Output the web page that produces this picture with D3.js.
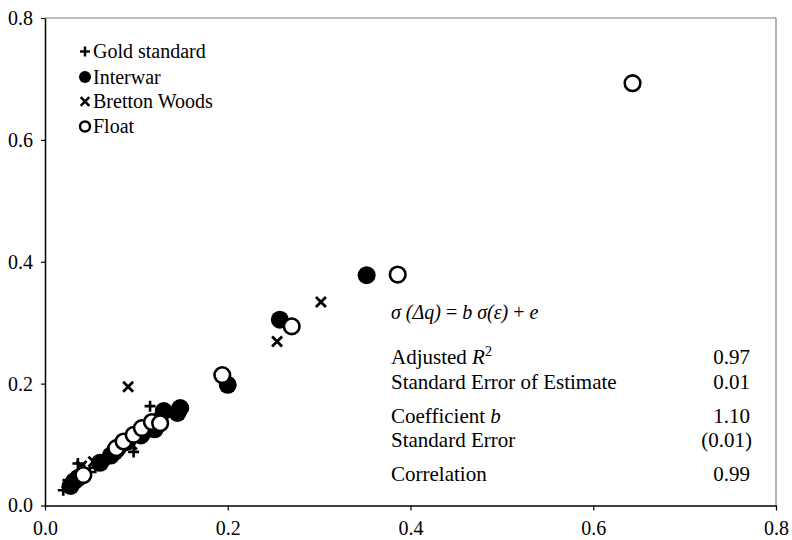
<!DOCTYPE html>
<html><head><meta charset="utf-8">
<script src="https://cdn.jsdelivr.net/npm/d3@7"></script>
<style>
html,body{margin:0;padding:0;background:#fff;}
svg text{font-family:"Liberation Serif","Times New Roman",serif;fill:#000;}
</style></head>
<body><svg id="c" width="792" height="540"></svg>
<script>
const seriesNames = ["Gold standard","Interwar","Bretton Woods","Float"];
const goldStandard = [[0.020,0.025],[0.024,0.030],[0.030,0.042],[0.036,0.069],[0.043,0.058],[0.049,0.055],[0.055,0.062],[0.060,0.067],[0.064,0.070],[0.068,0.073],[0.078,0.085],[0.085,0.092],[0.097,0.088],[0.100,0.112],[0.112,0.125],[0.115,0.163],[0.125,0.150]];
const interwar = [[0.028,0.032],[0.032,0.040],[0.036,0.045],[0.060,0.070],[0.072,0.082],[0.076,0.088],[0.080,0.095],[0.090,0.105],[0.105,0.115],[0.120,0.125],[0.125,0.135],[0.130,0.155],[0.145,0.152],[0.148,0.160],[0.200,0.198],[0.257,0.305],[0.352,0.378]];
const brettonWoods = [[0.025,0.035],[0.040,0.065],[0.053,0.072],[0.062,0.068],[0.065,0.075],[0.080,0.090],[0.091,0.195],[0.095,0.100],[0.110,0.120],[0.254,0.269],[0.302,0.334]];
const floatPeriod = [[0.042,0.050],[0.078,0.094],[0.086,0.105],[0.097,0.116],[0.106,0.127],[0.117,0.137],[0.126,0.135],[0.194,0.214],[0.270,0.294],[0.386,0.379],[0.643,0.693]];
const xTicks = [0,0.2,0.4,0.6,0.8];
const yTicks = [0,0.2,0.4,0.6,0.8];
const statLabels = ["Adjusted R2","Standard Error of Estimate","Coefficient b","Standard Error","Correlation"];
const statValues = ["0.97","0.01","1.10","(0.01)","0.99"];

const svg = d3.select("#c");
const L=45, R=776, T=18, B=505.5;
const x = d3.scaleLinear().domain([0,0.8]).range([L,R]);
const y = d3.scaleLinear().domain([0,0.8]).range([B,T]);

// frame top/right
svg.append("line").attr("x1",L).attr("x2",R).attr("y1",T).attr("y2",T).attr("stroke","#808080").attr("stroke-width",1.2);
svg.append("line").attr("x1",R).attr("x2",R).attr("y1",T).attr("y2",B).attr("stroke","#808080").attr("stroke-width",1.2);

const xAxis = svg.append("g").attr("transform",`translate(0,${B})`)
  .call(d3.axisBottom(x).tickValues(xTicks).tickFormat(d3.format(".1f")).tickSize(5).tickSizeOuter(0).tickPadding(10));
const yAxis = svg.append("g").attr("transform",`translate(${L},0)`)
  .call(d3.axisLeft(y).tickValues(yTicks).tickFormat(d3.format(".1f")).tickSize(4).tickSizeOuter(0).tickPadding(8));
[xAxis,yAxis].forEach(g=>{
  g.selectAll("path").attr("stroke","#000").attr("stroke-width",1.5);
  g.selectAll("line").attr("stroke","#000").attr("stroke-width",1.2);
  g.selectAll("text").attr("font-size",20).attr("font-family","Liberation Serif");
});

const plot = svg.append("g");
function plus(g,cx,cy,s,w){
  g.append("path").attr("d",`M${cx-s},${cy}H${cx+s}M${cx},${cy-s}V${cy+s}`).attr("stroke","#000").attr("stroke-width",w).attr("fill","none");
}
function cross(g,cx,cy,s,w){
  g.append("path").attr("d",`M${cx-s},${cy-s}L${cx+s},${cy+s}M${cx-s},${cy+s}L${cx+s},${cy-s}`).attr("stroke","#000").attr("stroke-width",w).attr("fill","none");
}
goldStandard.forEach(d=>plus(plot,x(d[0]),y(d[1]),5.5,2.6));
interwar.forEach(d=>plot.append("circle").attr("cx",x(d[0])).attr("cy",y(d[1])).attr("r",9).attr("fill","#000"));
brettonWoods.forEach(d=>cross(plot,x(d[0]),y(d[1]),5,2.8));
floatPeriod.forEach(d=>plot.append("circle").attr("cx",x(d[0])).attr("cy",y(d[1])).attr("r",7.8).attr("fill","#fff").attr("stroke","#000").attr("stroke-width",2.6));

// legend
const lg = svg.append("g");
const legY = [51.5,77,101.5,126.5];
plus(lg,85,legY[0],5,2.4);
lg.append("circle").attr("cx",85).attr("cy",legY[1]).attr("r",6).attr("fill","#000");
cross(lg,85,legY[2],4.3,2.6);
lg.append("circle").attr("cx",85).attr("cy",legY[3]).attr("r",5).attr("fill","#fff").attr("stroke","#000").attr("stroke-width",2.4);
seriesNames.forEach((n,i)=>lg.append("text").attr("x",93).attr("y",legY[i]+6.5).attr("font-size",20).text(n));

// stats
const st = svg.append("g").attr("font-size",21);
const eq = st.append("text").attr("x",391).attr("y",319).attr("font-size",20);
[["σ (Δq)",true],[" = ",false],["b σ(ε)",true],[" + ",false],["e",true]].forEach(p=>eq.append("tspan").attr("font-style",p[1]?"italic":"normal").text(p[0]));
const rowY = [364,389,423,447,481];
statLabels.forEach((lab,i)=>{
  const t = st.append("text").attr("x",391).attr("y",rowY[i]);
  if(i===0){
    t.append("tspan").text("Adjusted ");
    t.append("tspan").attr("font-style","italic").text("R");
    t.append("tspan").attr("font-size",14).attr("dy",-8).text("2");
  } else if(i===2){
    t.append("tspan").text("Coefficient ");
    t.append("tspan").attr("font-style","italic").text("b");
  } else t.text(lab);
  st.append("text").attr("x",i===3?752:750).attr("y",rowY[i]).attr("text-anchor","end").text(statValues[i]);
});
</script></body></html>
